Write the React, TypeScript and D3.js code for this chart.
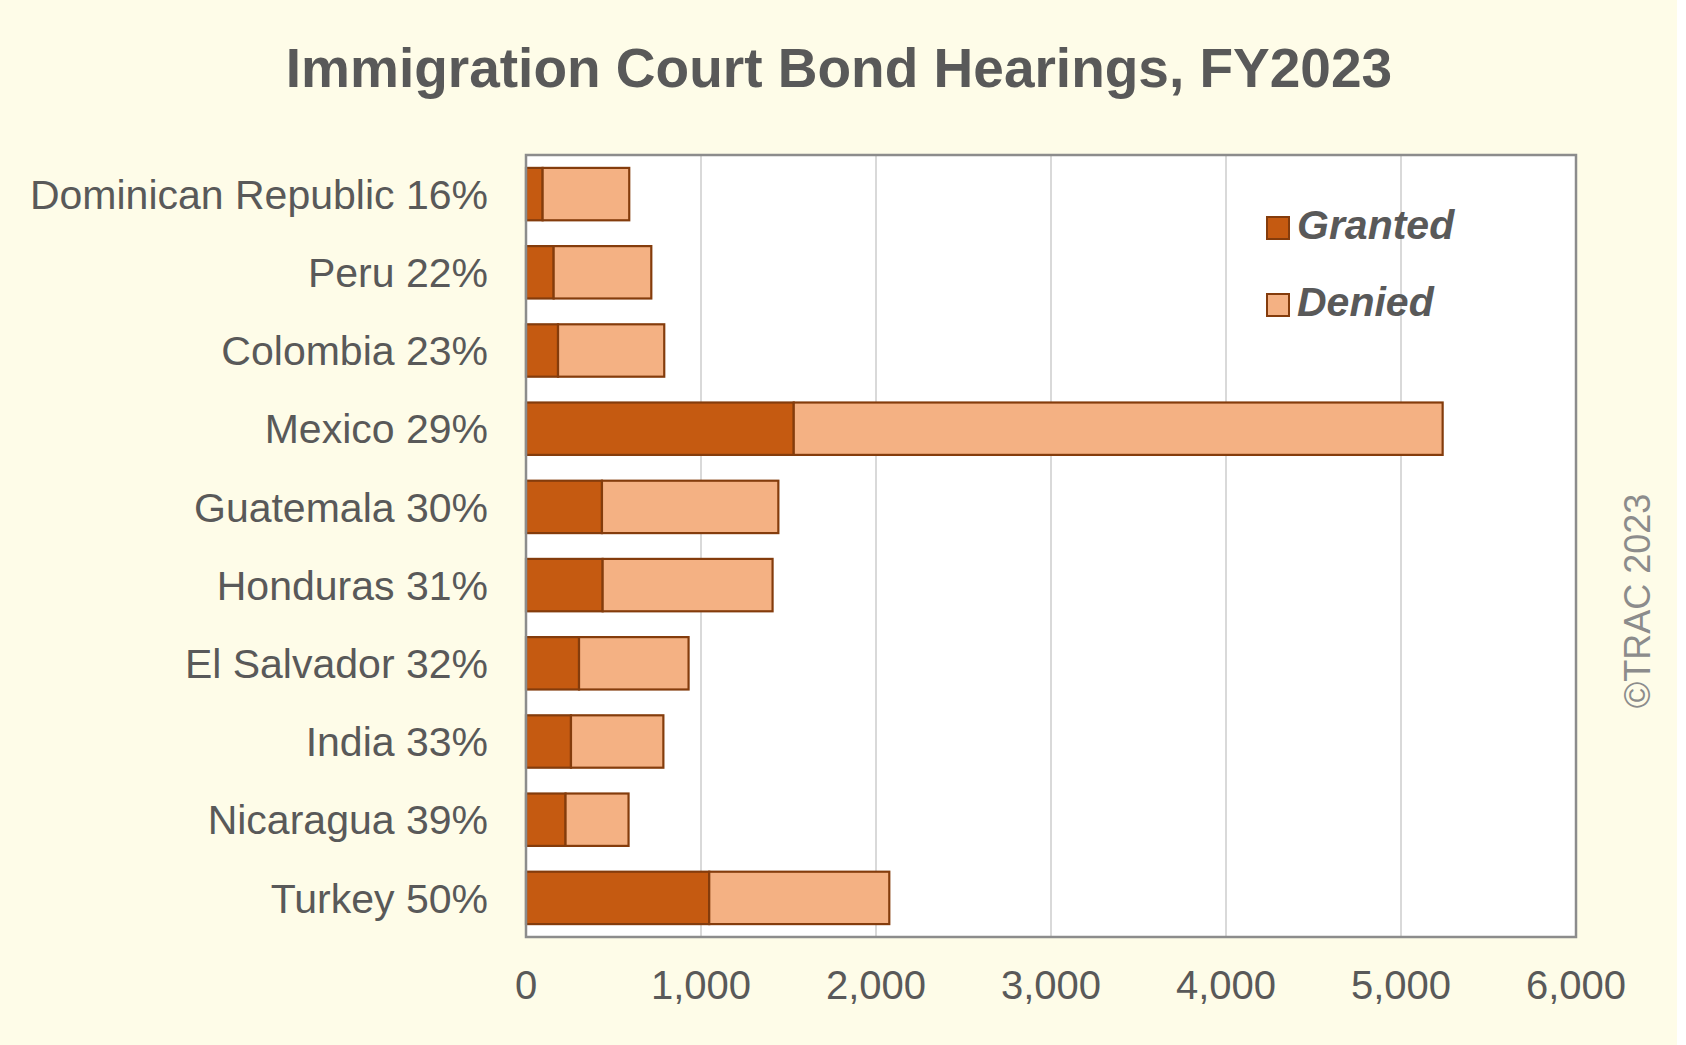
import React, { useRef, useEffect } from "react";
import * as d3 from "d3";

// values (hearings, FY2023)
const countries = [
  "Dominican Republic 16%",
  "Peru 22%",
  "Colombia 23%",
  "Mexico 29%",
  "Guatemala 30%",
  "Honduras 31%",
  "El Salvador 32%",
  "India 33%",
  "Nicaragua 39%",
  "Turkey 50%",
];
const granted = [95, 158, 183, 1530, 434, 438, 303, 257, 226, 1047];
const denied = [495, 558, 607, 3708, 1008, 971, 626, 528, 360, 1029];
const xTicks = [0, 1000, 2000, 3000, 4000, 5000, 6000];
const seriesNames = ["Granted", "Denied"];

const App = () => {
  const chartRef = useRef<SVGSVGElement>(null);

  useEffect(() => {
    drawChart();
  }, []);

  const drawChart = () => {
    const svgWidth = 1686;
    const svgHeight = 1045;
    const plot = { left: 526, right: 1576, top: 155, bottom: 937 };
    const font = "'Liberation Sans', Arial, Helvetica, sans-serif";
    const textColor = "#595959";
    const colors = ["#C55A11", "#F4B183"];
    const strokeColor = "#843C0C";

    const svg = d3.select(chartRef.current);
    svg.selectAll("*").remove();
    svg.attr("width", svgWidth).attr("height", svgHeight);

    // page background
    svg
      .append("rect")
      .attr("width", 1677)
      .attr("height", svgHeight)
      .attr("fill", "#FEFCE8");

    svg
      .append("text")
      .attr("x", 839)
      .attr("y", 87)
      .attr("text-anchor", "middle")
      .attr("font-family", font)
      .attr("font-weight", "bold")
      .attr("font-size", 55)
      .attr("fill", textColor)
      .text("Immigration Court Bond Hearings, FY2023");

    const x = d3.scaleLinear().domain([0, 6000]).range([plot.left, plot.right]);
    const y = d3
      .scaleBand()
      .domain(countries)
      .range([plot.top, plot.bottom])
      .paddingInner(0.33)
      .paddingOuter(0.165);

    // plot area
    svg
      .append("rect")
      .attr("x", plot.left)
      .attr("y", plot.top)
      .attr("width", plot.right - plot.left)
      .attr("height", plot.bottom - plot.top)
      .attr("fill", "#ffffff");

    // gridlines
    svg
      .append("g")
      .selectAll("line")
      .data(xTicks.slice(1, -1))
      .enter()
      .append("line")
      .attr("x1", (d) => x(d))
      .attr("x2", (d) => x(d))
      .attr("y1", plot.top)
      .attr("y2", plot.bottom)
      .attr("stroke", "#D9D9D9")
      .attr("stroke-width", 2);

    const table = countries.map((c, i) => ({
      country: c,
      Granted: granted[i],
      Denied: denied[i],
    }));
    const stacked = d3.stack<any>().keys(seriesNames)(table);

    stacked.forEach((layer, li) => {
      svg
        .append("g")
        .selectAll("rect")
        .data(layer)
        .enter()
        .append("rect")
        .attr("x", (d) => x(d[0]))
        .attr("y", (d) => y(d.data.country)!)
        .attr("width", (d) => x(d[1]) - x(d[0]))
        .attr("height", y.bandwidth())
        .attr("fill", colors[li])
        .attr("stroke", strokeColor)
        .attr("stroke-width", 2.2);
    });

    // plot border
    svg
      .append("rect")
      .attr("x", plot.left)
      .attr("y", plot.top)
      .attr("width", plot.right - plot.left)
      .attr("height", plot.bottom - plot.top)
      .attr("fill", "none")
      .attr("stroke", "#8C8C8C")
      .attr("stroke-width", 2.5);

    // category labels
    svg
      .append("g")
      .selectAll("text")
      .data(countries)
      .enter()
      .append("text")
      .attr("x", 488)
      .attr("y", (d) => y(d)! + y.bandwidth() / 2)
      .attr("dy", "0.36em")
      .attr("text-anchor", "end")
      .attr("font-family", font)
      .attr("font-size", 41)
      .attr("fill", textColor)
      .text((d) => d);

    // x tick labels
    svg
      .append("g")
      .selectAll("text")
      .data(xTicks)
      .enter()
      .append("text")
      .attr("x", (d) => x(d))
      .attr("y", 999)
      .attr("text-anchor", "middle")
      .attr("font-family", font)
      .attr("font-size", 40)
      .attr("fill", textColor)
      .text((d) => d3.format(",")(d));

    // legend
    const legend = svg.append("g");
    seriesNames.forEach((name, i) => {
      const ly = 217 + i * 77;
      legend
        .append("rect")
        .attr("x", 1267)
        .attr("y", ly)
        .attr("width", 22)
        .attr("height", 22)
        .attr("fill", colors[i])
        .attr("stroke", strokeColor)
        .attr("stroke-width", 2);
      legend
        .append("text")
        .attr("x", 1297)
        .attr("y", ly + 22)
        .attr("font-family", font)
        .attr("font-weight", "bold")
        .attr("font-style", "italic")
        .attr("font-size", 41)
        .attr("fill", textColor)
        .text(name);
    });

    // copyright
    svg
      .append("text")
      .attr("transform", "translate(1650,601) rotate(-90)")
      .attr("text-anchor", "middle")
      .attr("font-family", font)
      .attr("font-size", 36)
      .attr("fill", "#8C8C8C")
      .text("\u00A9TRAC 2023");
  };

  return (
    <div>
      <style>{`body { margin: 0; }`}</style>
      <svg ref={chartRef} style={{ display: "block" }}></svg>
    </div>
  );
};

export default App;
